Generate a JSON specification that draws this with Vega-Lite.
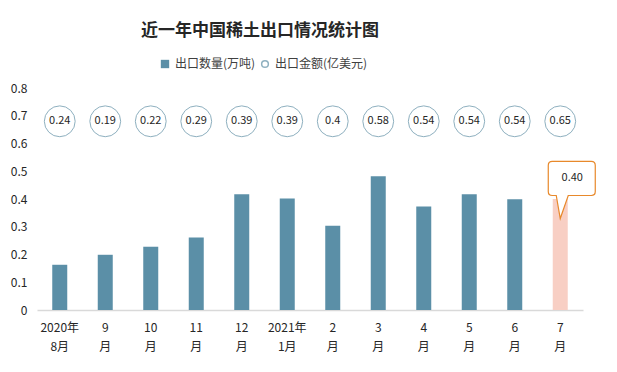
{
  "$schema": "https://vega.github.io/schema/vega-lite/v6.json",
  "autosize": {"type": "fit", "contains": "padding"},
  "width": 617,
  "height": 372,
  "padding": {"top": 22, "left": 10, "right": 22, "bottom": 20},
  "background": "white",
  "title": {
    "text": "近一年中国稀土出口情况统计图",
    "font": "Noto Sans CJK SC",
    "fontSize": 17,
    "fontWeight": "bold",
    "color": "#262626",
    "anchor": "middle",
    "dx": -50,
    "offset": 42
  },
  "config": {
    "view": {"stroke": null},
    "font": "Noto Sans CJK SC",
    "legend": {"labelFont": "Noto Sans CJK SC", "labelFontSize": 12, "labelColor": "#404040"},
    "axisY": {
      "title": null,
      "values": [0, 0.1, 0.2, 0.3, 0.4, 0.5, 0.6, 0.7, 0.8],
      "labelExpr": "datum.value == 0 ? '0' : format(datum.value, '.1f')",
      "labelOverlap": false,
      "grid": false,
      "domain": false,
      "ticks": false,
      "labelFontSize": 12,
      "labelColor": "#262626",
      "labelPadding": 10
    }
  },
  "data": {
    "values": [
      {"m": "2020年|8月", "q": 0.163, "v": 0.24},
      {"m": "9|月", "q": 0.199, "v": 0.19},
      {"m": "10|月", "q": 0.228, "v": 0.22},
      {"m": "11|月", "q": 0.261, "v": 0.29},
      {"m": "12|月", "q": 0.417, "v": 0.39},
      {"m": "2021年|1月", "q": 0.402, "v": 0.39},
      {"m": "2|月", "q": 0.304, "v": 0.4},
      {"m": "3|月", "q": 0.482, "v": 0.58},
      {"m": "4|月", "q": 0.373, "v": 0.54},
      {"m": "5|月", "q": 0.417, "v": 0.54},
      {"m": "6|月", "q": 0.399, "v": 0.54},
      {"m": "7|月", "q": 0.40, "v": 0.65}
    ]
  },
  "encoding": {
    "x": {
      "field": "m",
      "type": "nominal",
      "sort": null,
      "scale": {"paddingInner": 0, "paddingOuter": 0},
      "axis": {
        "title": null,
        "labelAngle": 0,
        "labelExpr": "split(datum.label, '|')",
        "labelLineHeight": 19,
        "labelFontSize": 12,
        "labelColor": "#262626",
        "labelPadding": 12,
        "ticks": false,
        "domainColor": "#d9d9d9",
        "domainWidth": 1.5,
        "grid": false
      }
    }
  },
  "layer": [
    {
      "mark": {"type": "bar", "width": 15},
      "encoding": {
        "y": {
          "field": "q",
          "type": "quantitative",
          "scale": {"domain": [0, 0.8]},
          "axis": {"values": [0, 0.1, 0.2, 0.3, 0.4, 0.5, 0.6, 0.7, 0.8], "tickCount": 9}
        },
        "color": {
          "condition": {"test": "datum.m === '7|月'", "value": "#F8CFC4"},
          "datum": "出口数量(万吨)",
          "scale": {"range": ["#5B8FA7"]},
          "legend": {
            "orient": "none",
            "legendX": 122,
            "legendY": -30,
            "title": null,
            "symbolType": "square",
            "symbolSize": 70,
            "labelOffset": 4
          }
        }
      }
    },
    {
      "mark": {"type": "point", "filled": false, "size": 950, "strokeWidth": 1, "fill": "white"},
      "encoding": {
        "y": {"datum": 0.68, "type": "quantitative", "axis": {"values": [0, 0.1, 0.2, 0.3, 0.4, 0.5, 0.6, 0.7, 0.8], "tickCount": 9}},
        "stroke": {
          "datum": "出口金额(亿美元)",
          "scale": {"range": ["#5F8FA5"]},
          "legend": {
            "orient": "none",
            "legendX": 222,
            "legendY": -30,
            "title": null,
            "symbolType": "circle",
            "symbolSize": 45,
            "labelOffset": 4
          }
        }
      }
    },
    {
      "mark": {"type": "text", "fontSize": 11, "color": "#262626"},
      "encoding": {
        "y": {"datum": 0.68, "type": "quantitative", "axis": {"values": [0, 0.1, 0.2, 0.3, 0.4, 0.5, 0.6, 0.7, 0.8], "tickCount": 9}},
        "text": {"field": "v", "type": "nominal"}
      }
    },
    {
      "transform": [{"filter": "datum.m === '7|月'"}],
      "mark": {
        "type": "point",
        "shape": "M -0.34 -1.6 L 1.32 -1.6 Q 1.49 -1.6 1.49 -1.43 L 1.49 -0.32 Q 1.49 -0.15 1.32 -0.15 L 0.34 -0.15 L 0 0.83 L -0.17 -0.15 L -0.34 -0.15 Q -0.51 -0.15 -0.51 -0.32 L -0.51 -1.43 Q -0.51 -1.6 -0.34 -1.6 Z",
        "size": 2209,
        "filled": true,
        "fill": "white",
        "stroke": "#E8892B",
        "strokeWidth": 1.2,
        "opacity": 1
      },
      "encoding": {
        "y": {"field": "q", "type": "quantitative", "axis": {"values": [0, 0.1, 0.2, 0.3, 0.4, 0.5, 0.6, 0.7, 0.8], "tickCount": 9}}
      }
    },
    {
      "transform": [{"filter": "datum.m === '7|月'"}],
      "mark": {"type": "text", "fontSize": 11, "color": "#262626", "dx": 12, "dy": -20.6},
      "encoding": {
        "y": {"field": "q", "type": "quantitative", "axis": {"values": [0, 0.1, 0.2, 0.3, 0.4, 0.5, 0.6, 0.7, 0.8], "tickCount": 9}},
        "text": {"field": "q", "type": "quantitative", "format": ".2f"}
      }
    }
  ]
}
